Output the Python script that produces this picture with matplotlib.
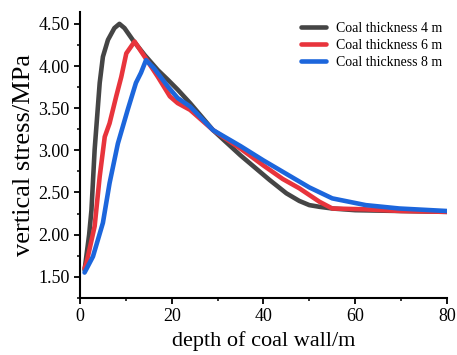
import matplotlib
matplotlib.use("Agg")
from matplotlib import pyplot as plt
from matplotlib.ticker import MultipleLocator, FormatStrFormatter

# depth of coal wall (m) and vertical stress (MPa)
x_4m = [1, 2, 2.5, 3.2, 4.3, 5, 6.1, 7.5, 8.6, 9.7, 11.5, 14.1, 17, 19.1, 21.3,
        24, 29, 35, 41.3, 45, 47.8, 50, 52.2, 55, 60, 70, 80]
y_4m = [1.58, 2.0, 2.29, 3.01, 3.80, 4.11, 4.31, 4.45, 4.50, 4.45, 4.31, 4.13, 3.95, 3.84, 3.72,
        3.56, 3.24, 2.94, 2.65, 2.49, 2.40, 2.35, 2.33, 2.31, 2.29, 2.28, 2.27]

x_6m = [1, 1.4, 3.2, 4.3, 5.4, 6.45, 7.9, 9.0, 10.1, 11.9, 14.1, 17, 19.6, 21.3,
        24, 29, 35, 40, 44.2, 47.8, 52.2, 55, 62.3, 70, 80]
y_6m = [1.6, 1.66, 2.10, 2.69, 3.16, 3.32, 3.64, 3.87, 4.15, 4.29, 4.11, 3.87, 3.64, 3.56,
        3.48, 3.24, 3.02, 2.82, 2.66, 2.55, 2.39, 2.31, 2.30, 2.28, 2.27]

x_8m = [1, 2.83, 5.0, 6.45, 8.26, 10.4, 12.2, 13.3, 14.4, 16.2, 19.1, 21.3, 24,
        29, 35, 40, 45, 50, 55, 62.3, 69.6, 80]
y_8m = [1.55, 1.74, 2.14, 2.61, 3.08, 3.48, 3.80, 3.92, 4.07, 3.97, 3.76, 3.62, 3.52,
        3.24, 3.05, 2.88, 2.72, 2.56, 2.43, 2.35, 2.31, 2.28]

labels = ["Coal thickness 4 m", "Coal thickness 6 m", "Coal thickness 8 m"]
colors = ["#454545", "#e8343c", "#1c66dc"]

plt.rcParams["font.family"] = ["Liberation Serif", "DejaVu Serif"]

fig = plt.figure(figsize=(4.57, 3.55), dpi=100)
ax = fig.add_axes([0.175, 0.161, 0.803, 0.805])

ax.plot(x_4m, y_4m, color=colors[0], lw=3.3, label=labels[0], solid_capstyle="round")
ax.plot(x_6m, y_6m, color=colors[1], lw=3.3, label=labels[1], solid_capstyle="round")
ax.plot(x_8m, y_8m, color=colors[2], lw=3.3, label=labels[2], solid_capstyle="round")

ax.set_xlim(0, 80)
ax.set_ylim(1.25, 4.64)
ax.xaxis.set_major_locator(MultipleLocator(20))
ax.xaxis.set_minor_locator(MultipleLocator(10))
ax.yaxis.set_major_locator(MultipleLocator(0.5))
ax.yaxis.set_minor_locator(MultipleLocator(0.25))
ax.yaxis.set_major_formatter(FormatStrFormatter("%.2f"))

for s in ["top", "right"]:
    ax.spines[s].set_visible(False)
for s in ["left", "bottom"]:
    ax.spines[s].set_linewidth(1.5)

ax.tick_params(which="major", direction="out", length=4, width=1.3, labelsize=13)
ax.tick_params(which="minor", direction="out", length=2.5, width=1.1)

ax.set_xlabel("depth of coal wall/m", fontsize=16)
ax.set_ylabel("vertical stress/MPa", fontsize=19, labelpad=2)

ax.legend(loc="upper right", frameon=False, fontsize=10, handlelength=1.8,
          handletextpad=0.7, labelspacing=0.3, borderpad=0, borderaxespad=0,
          bbox_to_anchor=(442 / 457, 1 - 22 / 355), bbox_transform=fig.transFigure)

fig.savefig("out.png", dpi=100)
